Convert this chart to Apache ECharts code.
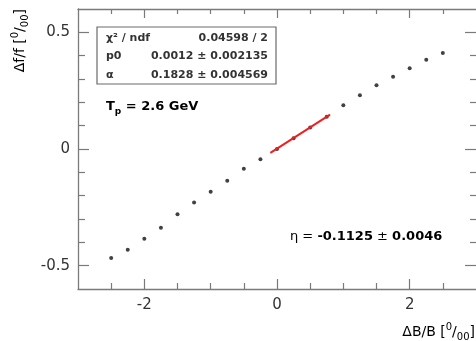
<!DOCTYPE html>
<html><head><meta charset="utf-8">
<script src="https://cdn.jsdelivr.net/npm/echarts@6/dist/echarts.min.js"></script>
<style>html,body{margin:0;padding:0;background:#fff}#c{width:476px;height:341px}</style>
</head><body><div id="c"></div>
<script>
const dBoverB = [-2.5,-2.25,-2.0,-1.75,-1.5,-1.25,-1.0,-0.75,-0.5,-0.25,0,0.25,0.5,0.75,1.0,1.25,1.5,1.75,2.0,2.25,2.5];
const dFoverF = [-0.467,-0.432,-0.385,-0.337,-0.280,-0.229,-0.183,-0.136,-0.085,-0.044,0.000,0.046,0.092,0.138,0.187,0.230,0.273,0.310,0.346,0.382,0.411];
const fitX = [-0.1, 0.8];
const fitY = [-0.017, 0.147];
const xMajorTicks = [-2, 0, 2];
const xMinorTicks = [-2.5,-1.5,-1,-0.5,0.5,1,1.5,2.5];
const yMajorTicks = [-0.5, 0, 0.5];
const yMinorTicks = [-0.4,-0.3,-0.2,-0.1,0.1,0.2,0.3,0.4];
const statsNames = ['χ² / ndf', 'p0', 'α'];
const statsValues = ['0.04598 / 2', '0.0012 ± 0.002135', '0.1828 ± 0.004569'];

const FONT = 'DejaVu Sans';
const AX = '#7a7a7a';
const TXT = '#333';

function xAx(pos, ticks, len, labels, line) {
  return {
    type: 'value', min: -3, max: 3, position: pos,
    axisLine: {show: line, onZero: false, lineStyle: {color: AX, width: 1.3}},
    axisTick: {show: true, inside: true, length: len, customValues: ticks, lineStyle: {color: AX, width: 1.2}},
    axisLabel: labels ? {show: true, customValues: ticks, fontFamily: FONT, fontSize: 15, color: TXT, margin: 9} : {show: false},
    splitLine: {show: false}
  };
}
function yAx(pos, ticks, len, labels, line) {
  return {
    type: 'value', min: -0.6, max: 0.6, position: pos,
    axisLine: {show: line, onZero: false, lineStyle: {color: AX, width: 1.3}},
    axisTick: {show: true, inside: true, length: len, customValues: ticks, lineStyle: {color: AX, width: 1.2}},
    axisLabel: labels ? {show: true, customValues: ticks, fontFamily: FONT, fontSize: 15, color: TXT, margin: 8} : {show: false},
    splitLine: {show: false}
  };
}

const graphics = [
  {type: 'rect', shape: {x: 97, y: 27, width: 179, height: 57}, style: {fill: '#fff', stroke: '#6a6a6a', lineWidth: 1.2}, z: 10}
];
const rowY = [38, 56.5, 75];
statsNames.forEach((n, i) => {
  graphics.push({type: 'text', x: 106, y: rowY[i], z: 11,
    style: {text: n, font: 'bold 11px "DejaVu Sans"', fill: TXT, textAlign: 'left', textVerticalAlign: 'middle'}});
  graphics.push({type: 'text', x: 268, y: rowY[i], z: 11,
    style: {text: statsValues[i], font: 'bold 11px "DejaVu Sans"', fill: TXT, textAlign: 'right', textVerticalAlign: 'middle'}});
});
graphics.push({type: 'text', x: 106, y: 108, z: 11,
  style: {text: '{b|T}{s|p}{b| = 2.6 GeV}', textVerticalAlign: 'middle', textAlign: 'left',
    rich: {b: {fontFamily: FONT, fontWeight: 'bold', fontSize: 13, color: '#222', lineHeight: 16, verticalAlign: 'top'},
           s: {fontFamily: FONT, fontWeight: 'bold', fontSize: 9, color: '#222', lineHeight: 16, verticalAlign: 'bottom'}}}});
graphics.push({type: 'text', x: 290, y: 237, z: 11,
  style: {text: '{n|η = }{b|-0.1125}{n| ± }{b|0.0046}', textVerticalAlign: 'middle', textAlign: 'left',
    rich: {n: {fontFamily: FONT, fontSize: 13, color: '#222'},
           b: {fontFamily: FONT, fontWeight: 'bold', fontSize: 13, color: '#222'}}}});
graphics.push({type: 'text', x: 475, y: 332, z: 11,
  style: {text: '{m|ΔB/B [}{u|0}{m|/}{d|00}{m|]}', textVerticalAlign: 'middle', textAlign: 'right',
    rich: {m: {fontFamily: FONT, fontSize: 14, color: TXT, lineHeight: 20, verticalAlign: 'middle'},
           u: {fontFamily: FONT, fontSize: 10, color: TXT, lineHeight: 20, verticalAlign: 'top'},
           d: {fontFamily: FONT, fontSize: 10, color: TXT, lineHeight: 20, verticalAlign: 'bottom'}}}});
graphics.push({type: 'text', x: 20, y: 9, rotation: Math.PI / 2, z: 11,
  style: {text: '{m|Δf/f [}{u|0}{m|/}{d|00}{m|]}', textVerticalAlign: 'middle', textAlign: 'right',
    rich: {m: {fontFamily: FONT, fontSize: 14, color: TXT, lineHeight: 20, verticalAlign: 'middle'},
           u: {fontFamily: FONT, fontSize: 10, color: TXT, lineHeight: 20, verticalAlign: 'top'},
           d: {fontFamily: FONT, fontSize: 10, color: TXT, lineHeight: 20, verticalAlign: 'bottom'}}}});

const chart = echarts.init(document.getElementById('c'), null, {renderer: 'canvas'});
chart.setOption({
  animation: false,
  backgroundColor: '#fff',
  grid: {left: 78, top: 9, width: 399, height: 280, containLabel: false},
  xAxis: [xAx('bottom', xMajorTicks, 10, true, true), xAx('bottom', xMinorTicks, 6, false, false),
          xAx('top', xMajorTicks, 9, false, true), xAx('top', xMinorTicks, 5, false, false)],
  yAxis: [yAx('left', yMajorTicks, 11, true, true), yAx('left', yMinorTicks, 7, false, false),
          yAx('right', yMajorTicks, 11, false, false), yAx('right', yMinorTicks, 6, false, false)],
  series: [
    {type: 'scatter', xAxisIndex: 0, yAxisIndex: 0, symbol: 'circle', symbolSize: 4,
     itemStyle: {color: '#111'}, data: dBoverB.map((x, i) => [x, dFoverF[i]]), z: 3},
    {type: 'line', xAxisIndex: 0, yAxisIndex: 0, showSymbol: false, symbol: 'none',
     lineStyle: {color: '#f21e1e', width: 2}, data: fitX.map((x, i) => [x, fitY[i]]), z: 4}
  ],
  graphic: graphics
});
</script></body></html>
